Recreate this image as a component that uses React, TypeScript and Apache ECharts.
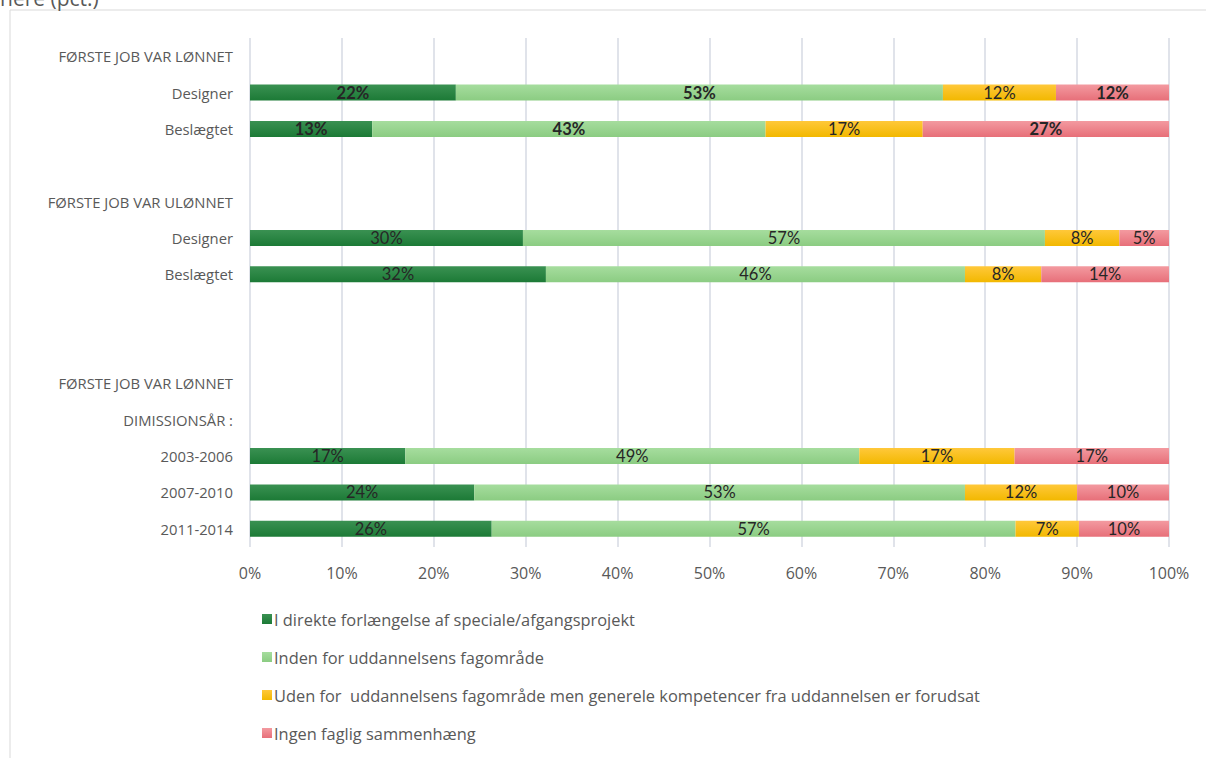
import React, { useEffect, useRef } from "react";
import * as echarts from "echarts";

const categories = [
  "FØRSTE JOB VAR LØNNET",
  "Designer",
  "Beslægtet",
  "",
  "FØRSTE JOB VAR ULØNNET",
  "Designer ",
  "Beslægtet ",
  " ",
  "  ",
  "FØRSTE JOB VAR LØNNET ",
  "DIMISSIONSÅR :",
  "2003-2006",
  "2007-2010",
  "2011-2014",
];

const seriesNames = [
  "I direkte forlængelse af speciale/afgangsprojekt",
  "Inden for uddannelsens fagområde",
  "Uden for  uddannelsens fagområde men generele kompetencer fra uddannelsen er forudsat",
  "Ingen faglig sammenhæng",
];

const direkte = [null, 22.4, 13.3, null, null, 29.7, 32.2, null, null, null, null, 16.9, 24.4, 26.3];
const indenFor = [null, 53.0, 42.8, null, null, 56.8, 45.6, null, null, null, null, 49.4, 53.4, 57.0];
const udenFor = [null, 12.3, 17.1, null, null, 8.1, 8.3, null, null, null, null, 16.9, 12.2, 6.9];
const ingen = [null, 12.3, 26.9, null, null, 5.4, 13.9, null, null, null, null, 16.9, 10.0, 9.8];

const boldRows = [1, 2];
const boldSeries = [0, 1, 3];
const xTicks = [0, 10, 20, 30, 40, 50, 60, 70, 80, 90, 100];

const colors = [
  ["#3a9152", "#1c7a36"],
  ["#a6dd9e", "#8bcc82"],
  ["#ffc83a", "#f2b800"],
  ["#f39aa0", "#e76f79"],
];

export default function App() {
  const ref = useRef<HTMLDivElement>(null);
  useEffect(() => {
    document.body.style.margin = "0";
    const chart = echarts.init(ref.current!, null, { renderer: "svg" });
    const all = [direkte, indenFor, udenFor, ingen];
    const labelFont = "Lato, 'Open Sans', sans-serif";
    const font = "'Open Sans', sans-serif";
    const series = all.map((arr, si) => ({
      name: seriesNames[si],
      type: "bar",
      stack: "total",
      barWidth: 16,
      itemStyle: {
        color: new echarts.graphic.LinearGradient(0, 0, 0, 1, [
          { offset: 0, color: colors[si][0] },
          { offset: 1, color: colors[si][1] },
        ]),
      },
      label: {
        show: true,
        position: "inside",
        color: "#262626",
        fontSize: 16.5,
        fontFamily: labelFont,
        formatter: (p: any) => (p.value == null ? "" : Math.round(p.value) + "%"),
      },
      data: arr.map((v, i) =>
        boldRows.includes(i) && boldSeries.includes(si) && v != null
          ? { value: v, label: { fontWeight: "bold" } }
          : v
      ),
    }));
    chart.setOption({
      animation: false,
      textStyle: { fontFamily: font },
      grid: { left: 250, right: 37, top: 38, bottom: 211, containLabel: false },
      xAxis: {
        type: "value",
        min: xTicks[0],
        max: xTicks[xTicks.length - 1],
        interval: 10,
        axisLine: { show: false },
        axisTick: { show: false },
        splitLine: { show: true, lineStyle: { color: "#e0e3ea", width: 2 } },
        axisLabel: {
          formatter: (v: number) => v + "%",
          color: "#595959",
          fontSize: 16,
          fontFamily: font,
          margin: 18,
        },
      },
      yAxis: {
        type: "category",
        inverse: true,
        data: categories,
        axisLine: { show: false },
        axisTick: { show: false },
        axisLabel: {
          color: "#595959",
          fontSize: 14.8,
          fontFamily: font,
          margin: 17,
          formatter: (v: string) => v.trim(),
        },
      },
      legend: {
        orient: "vertical",
        left: 257,
        top: 606,
        itemWidth: 10,
        itemHeight: 10,
        itemGap: 22,
        icon: "rect",
        textStyle: { color: "#595959", fontSize: 16.4, fontFamily: font, padding: [0, 0, 0, -3] },
        data: seriesNames,
      },
      graphic: [
        {
          type: "rect",
          shape: { x: 10, y: 10, width: 1200, height: 760 },
          style: { fill: "none", stroke: "#d9d9d9", lineWidth: 1 },
          silent: true,
        },
        {
          type: "text",
          x: 0,
          y: 8,
          style: {
            text: "here (pct.)",
            fill: "#595959",
            font: "21px 'Open Sans', sans-serif",
            verticalAlign: "bottom",
          },
        },
      ],
      series,
    });
    return () => chart.dispose();
  }, []);
  return <div ref={ref} style={{ width: 1206, height: 758 }} />;
}
